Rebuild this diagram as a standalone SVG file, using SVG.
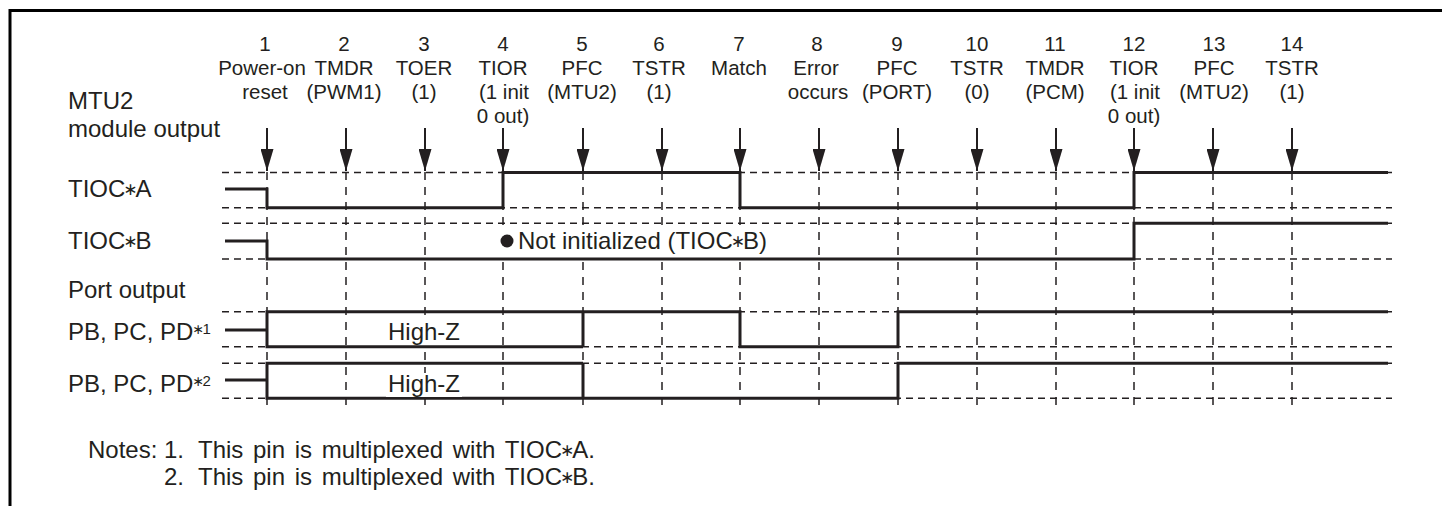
<svg xmlns="http://www.w3.org/2000/svg" width="1442" height="506" viewBox="0 0 1442 506">
<style>
text{font-family:"Liberation Sans","DejaVu Sans",Arial,sans-serif;fill:#231f20}
.h{font-size:20.5px;text-anchor:middle}
.l{font-size:24px}
.n{font-size:24px;word-spacing:3px}
.ast{font-family:"DejaVu Sans",sans-serif;font-size:17px;letter-spacing:-2px}
.sup{font-size:15px}
.sast{font-family:"DejaVu Sans",sans-serif;font-size:14px;letter-spacing:-1.5px}
.grid{stroke:#231f20;stroke-width:1.5;fill:none;stroke-dasharray:7 5}
.vgrid{stroke:#231f20;stroke-width:1.5;fill:none;stroke-dasharray:8 7}
.wave{stroke:#231f20;stroke-width:3;fill:none;stroke-linejoin:miter}
.arr{stroke:#231f20;stroke-width:2;fill:none}
.frame{stroke:#000;stroke-width:3;fill:none}
.mask{fill:#fff}
</style>
<defs>
<marker id="ah" viewBox="0 0 22 13" refX="22" refY="6.5" markerWidth="22" markerHeight="13" markerUnits="userSpaceOnUse" orient="auto">
<path d="M0,0 L22,6.5 L0,13 Z" fill="#231f20"/>
</marker>
</defs>
<path class="frame" d="M10,506 V10.5 H1442"/>

<g id="labels">
<text class="l" x="68" y="109">MTU2</text>
<text class="l" x="68" y="137">module output</text>
<text class="l" x="68" y="197">TIOC<tspan class="ast" dx="-2" baseline-shift="2.5">∗</tspan>A</text>
<text class="l" x="68" y="249">TIOC<tspan class="ast" dx="-2" baseline-shift="2.5">∗</tspan>B</text>
<text class="l" x="68" y="298">Port output</text>
<text class="l" x="68" y="340">PB, PC, PD<tspan class="sast" dx="-1" baseline-shift="6">∗</tspan><tspan class="sup" baseline-shift="6">1</tspan></text>
<text class="l" x="68" y="392">PB, PC, PD<tspan class="sast" dx="-1" baseline-shift="6">∗</tspan><tspan class="sup" baseline-shift="6">2</tspan></text>
</g>

<g id="grid">
<path class="grid" d="M222,172.5 H1392 M222,207.7 H1392 M222,223.3 H1392 M222,259 H1392 M222,311.7 H1392 M222,346.7 H1392 M222,363.3 H1392 M222,398.3 H1392"/>
<path class="vgrid" d="M267,172 V408 M346,172 V408 M425,172 V408 M503,172 V408 M583,172 V408 M662,172 V408 M740,172 V408 M819,172 V408 M898,172 V408 M977,172 V408 M1056,172 V408 M1134,172 V408 M1213,172 V408 M1292,172 V408"/>
</g>

<g id="connectors">
<path class="arr" d="M267,128 V171" marker-end="url(#ah)"/>
<path class="arr" d="M346,128 V171" marker-end="url(#ah)"/>
<path class="arr" d="M425,128 V171" marker-end="url(#ah)"/>
<path class="arr" d="M503,128 V171" marker-end="url(#ah)"/>
<path class="arr" d="M583,128 V171" marker-end="url(#ah)"/>
<path class="arr" d="M662,128 V171" marker-end="url(#ah)"/>
<path class="arr" d="M740,128 V171" marker-end="url(#ah)"/>
<path class="arr" d="M819,128 V171" marker-end="url(#ah)"/>
<path class="arr" d="M898,128 V171" marker-end="url(#ah)"/>
<path class="arr" d="M977,128 V171" marker-end="url(#ah)"/>
<path class="arr" d="M1056,128 V171" marker-end="url(#ah)"/>
<path class="arr" d="M1134,128 V171" marker-end="url(#ah)"/>
<path class="arr" d="M1213,128 V171" marker-end="url(#ah)"/>
<path class="arr" d="M1292,128 V171" marker-end="url(#ah)"/>
</g>

<g id="events">
<g id="ev1"><text class="h" x="265" y="51">1</text><text class="h" x="262" y="75">Power-on</text><text class="h" x="265" y="99">reset</text></g>
<g id="ev2"><text class="h" x="344" y="51">2</text><text class="h" x="344" y="75">TMDR</text><text class="h" x="344" y="99">(PWM1)</text></g>
<g id="ev3"><text class="h" x="424" y="51">3</text><text class="h" x="424" y="75">TOER</text><text class="h" x="424" y="99">(1)</text></g>
<g id="ev4"><text class="h" x="503" y="51">4</text><text class="h" x="503" y="75">TIOR</text><text class="h" x="504" y="99">(1 init</text><text class="h" x="503" y="123">0 out)</text></g>
<g id="ev5"><text class="h" x="582" y="51">5</text><text class="h" x="582" y="75">PFC</text><text class="h" x="582" y="99">(MTU2)</text></g>
<g id="ev6"><text class="h" x="659" y="51">6</text><text class="h" x="659" y="75">TSTR</text><text class="h" x="659" y="99">(1)</text></g>
<g id="ev7"><text class="h" x="739" y="51">7</text><text class="h" x="739" y="75">Match</text></g>
<g id="ev8"><text class="h" x="817" y="51">8</text><text class="h" x="816" y="75">Error</text><text class="h" x="818" y="99">occurs</text></g>
<g id="ev9"><text class="h" x="897" y="51">9</text><text class="h" x="897" y="75">PFC</text><text class="h" x="897" y="99">(PORT)</text></g>
<g id="ev10"><text class="h" x="977" y="51">10</text><text class="h" x="977" y="75">TSTR</text><text class="h" x="977" y="99">(0)</text></g>
<g id="ev11"><text class="h" x="1055" y="51">11</text><text class="h" x="1055" y="75">TMDR</text><text class="h" x="1055" y="99">(PCM)</text></g>
<g id="ev12"><text class="h" x="1134" y="51">12</text><text class="h" x="1134" y="75">TIOR</text><text class="h" x="1135" y="99">(1 init</text><text class="h" x="1134" y="123">0 out)</text></g>
<g id="ev13"><text class="h" x="1214" y="51">13</text><text class="h" x="1214" y="75">PFC</text><text class="h" x="1214" y="99">(MTU2)</text></g>
<g id="ev14"><text class="h" x="1292" y="51">14</text><text class="h" x="1292" y="75">TSTR</text><text class="h" x="1292" y="99">(1)</text></g>
</g>

<g id="waves">
<path id="tiocA" class="wave" d="M225,189 H267 V207.7 H503 V172.5 H740 V207.7 H1134 V172.5 H1388"/>
<path id="tiocB" class="wave" d="M225,241 H267 V259 H1134 V223.3 H1388"/>
<path id="pb1" class="wave" d="M225,330 H267 M583,346.7 H267 V311.7 H740 V346.7 H898 V311.7 H1388 M583,311.7 V346.7"/>
<path id="pb2" class="wave" d="M225,380 H267 M583,363.3 H267 V398.3 H898 V363.3 H1388 M583,363.3 V398.3"/>
</g>

<g id="annotations">
<rect class="mask" x="498" y="228" width="284" height="28"/>
<rect class="mask" x="386" y="321" width="76" height="24"/>
<rect class="mask" x="386" y="373" width="76" height="24"/>
<circle cx="507" cy="241" r="6.5" fill="#231f20"/>
<text class="l" x="518" y="249">Not initialized (TIOC<tspan class="ast" dx="-2" baseline-shift="2.5">∗</tspan>B)</text>
<text class="l" x="424" y="340" text-anchor="middle">High-Z</text>
<text class="l" x="424" y="392" text-anchor="middle">High-Z</text>
</g>

<g id="notes">
<text class="n" x="88" y="458">Notes:</text>
<text class="n" x="164" y="458">1.</text>
<text class="n" x="198" y="458">This pin is multiplexed with TIOC<tspan class="ast" dx="-2" baseline-shift="2.5">∗</tspan>A.</text>
<text class="n" x="164" y="485">2.</text>
<text class="n" x="198" y="485">This pin is multiplexed with TIOC<tspan class="ast" dx="-2" baseline-shift="2.5">∗</tspan>B.</text>
</g>
</svg>
